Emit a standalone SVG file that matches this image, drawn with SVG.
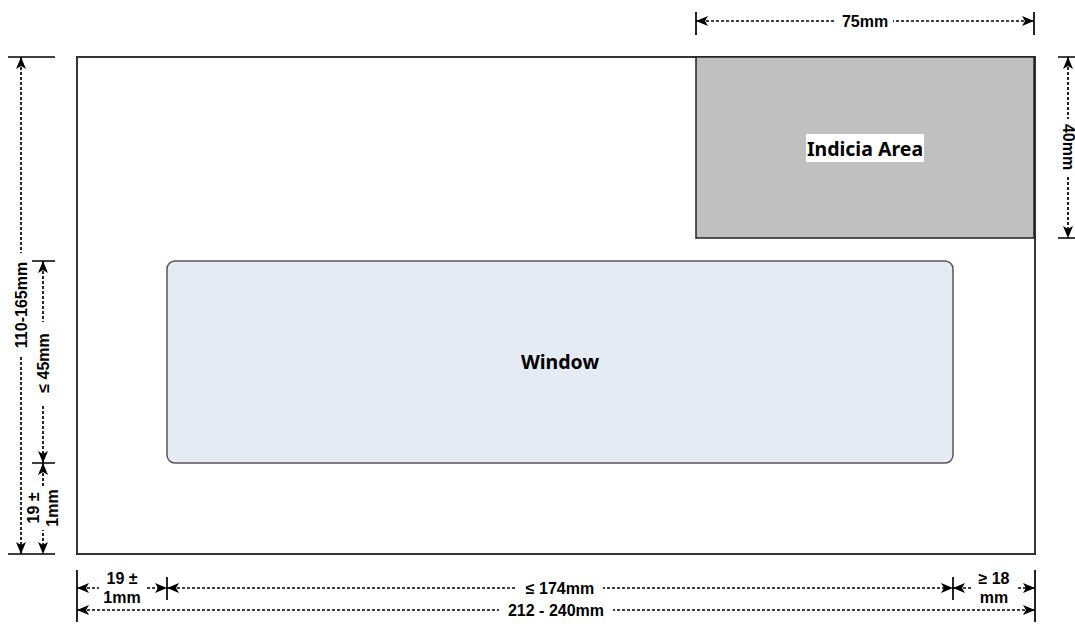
<svg xmlns="http://www.w3.org/2000/svg" width="1075" height="630" viewBox="0 0 1075 630">
<style>
.dim{fill:none;stroke:#000;stroke-width:1.7;stroke-dasharray:3 2;marker-start:url(#arr);marker-end:url(#arr)}
.tick{fill:none;stroke:#000;stroke-width:1.7}
.lbl{font-family:"Liberation Sans",Arial,sans-serif;font-weight:bold;font-size:16px;fill:#000;text-anchor:middle;dominant-baseline:central}
.bg{fill:#fff}
.node{font-family:"Noto Sans","Open Sans",sans-serif;font-weight:bold;font-size:19.5px;fill:#000;text-anchor:middle;dominant-baseline:central}
</style>
<defs>
<marker id="arr" viewBox="0 0 12 10" refX="12" refY="5" markerWidth="12" markerHeight="10" markerUnits="userSpaceOnUse" orient="auto-start-reverse">
<path d="M0,0 L12,5 L0,10 L3,5 Z" fill="#000"/>
</marker>
</defs>
<rect width="1075" height="630" fill="#fff"/>
<g id="envelope">
<rect x="77" y="57" width="958" height="497" fill="#fff" stroke="#333" stroke-width="2"/>
</g>
<g id="indicia">
<rect x="696" y="57" width="338" height="181" fill="#c0c0c0" stroke="#222" stroke-width="1.5"/>
<rect x="806" y="134" width="118" height="28" class="bg"/>
<text x="865" y="148" class="node">Indicia Area</text>
</g>
<g id="window">
<rect x="167" y="261" width="786" height="202" rx="8" ry="8" fill="#e5ebf5" stroke="#555" stroke-width="1.5"/>
<text x="560" y="361" class="node">Window</text>
</g>
<g id="connectors">
<path class="tick" d="M696,12V35M1034,12V35"/>
<path class="dim" d="M696,21H1034"/>
<path class="tick" d="M1058,57H1075M1058,238H1075"/>
<path class="dim" d="M1068,57V238"/>
<path class="tick" d="M8,57H55M8,554H55M32,261H55M32,463H55"/>
<path class="dim" d="M21,57V554"/>
<path class="dim" d="M43,261V463"/>
<path class="dim" d="M43,463V554"/>
<path class="tick" d="M77,570V622M1035,570V622M167,577V600M953,577V600"/>
<path class="dim" d="M77,588H167"/>
<path class="dim" d="M167,588H953"/>
<path class="dim" d="M953,588H1035"/>
<path class="dim" d="M77,610H1035"/>
</g>
<g id="labels">
<rect x="836" y="13" width="57" height="17" class="bg"/>
<text x="865" y="21" class="lbl">75mm</text>
<g transform="translate(1068,147) rotate(90)">
<rect x="-28" y="-9" width="56" height="18" class="bg"/>
<text x="0" y="0" class="lbl">40mm</text>
</g>
<g transform="translate(21,305) rotate(-90)">
<rect x="-52" y="-9" width="104" height="18" class="bg"/>
<text x="0" y="0" class="lbl">110-165mm</text>
</g>
<g transform="translate(43,363) rotate(-90)">
<rect x="-41" y="-9" width="82" height="18" class="bg"/>
<text x="0" y="0" class="lbl">≤ 45mm</text>
</g>
<g transform="translate(43,508) rotate(-90)">
<rect x="-22" y="-18" width="44" height="36" class="bg"/>
<text x="0" y="-9.5" class="lbl">19 ±</text>
<text x="0" y="9.5" class="lbl">1mm</text>
</g>
<rect x="99" y="569" width="46" height="38" class="bg"/>
<text x="122" y="578" class="lbl">19 ±</text>
<text x="122" y="597" class="lbl">1mm</text>
<rect x="517" y="580" width="86" height="17" class="bg"/>
<text x="560" y="588" class="lbl">≤ 174mm</text>
<rect x="972" y="569" width="44" height="38" class="bg"/>
<text x="994" y="578" class="lbl">≥ 18</text>
<text x="994" y="597" class="lbl">mm</text>
<rect x="499" y="602" width="114" height="17" class="bg"/>
<text x="556" y="610" class="lbl">212 - 240mm</text>
</g>
</svg>
